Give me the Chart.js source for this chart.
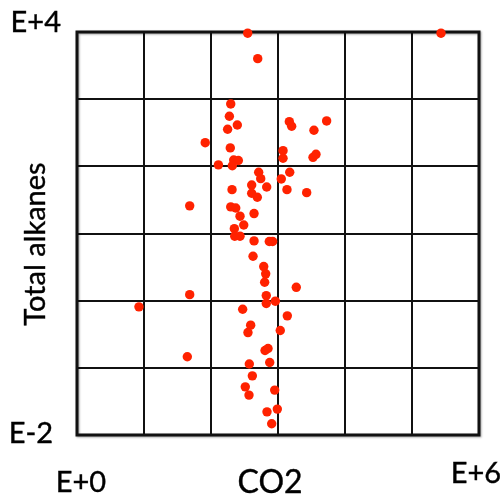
<!DOCTYPE html>
<html>
<head>
<meta charset="utf-8">
<script src="https://cdn.jsdelivr.net/npm/chart.js@4/dist/chart.umd.min.js"></script>
<style>
html,body{margin:0;padding:0;background:#fff;}
#wrap{width:504px;height:499px;position:relative;}
</style>
</head>
<body>
<div id="wrap"><canvas id="c" width="504" height="499"></canvas></div>
<script>
// Data (log-log scatter)
const co2 = [353,271000,498,197,188,247,177,1476,1600,3440,5320,82,194,1189,1189,3330,3690,218,256,129,208,
  515,552,1496,1119,405,678,206,1361,2679,405,491,48.1,197,234,439,271,308,223,226,271,439,741,832,
  424,612,655,632,1875,48.1,668,668,912,8.41,297,1377,391,356,1081,640,710,44.3,373,752,414,325,369,893,685,977,805];
const alkanes = [9600,9600,4010,849,556,413,356,462,395,344,474,225,188,171,132,136,151,124,122,105,102,
  81.7,65.6,81.7,64.9,52.8,49.3,45.0,45.0,40.6,39.8,34.7,25.8,24.9,24.0,19.8,18.1,13.4,11.8,9.12,9.12,7.76,7.59,7.59,
  4.59,3.22,2.51,1.88,1.58,1.23,1.19,0.906,0.982,0.809,0.746,0.594,0.432,0.335,0.359,0.181,0.194,0.146,0.114,0.120,0.076,0.0521,0.0393,0.0466,0.0221,0.0243,0.0147];
const xDecades = [1,10,100,1000,10000,100000,1000000];
const yDecades = [0.01,0.1,1,10,100,1000,10000];
const xTickLabels = ['E+0','E+6'];
const yTickLabels = ['E-2','E+4'];
const xTitle = 'CO2';
const yTitle = 'Total alkanes';

const points = co2.map((x,i)=>({x:x,y:alkanes[i]}));
const FONT = 'Lato, "Open Sans", sans-serif';

const framePlugin = {
  id:'frame',
  beforeDatasetsDraw(chart){
    const ctx = chart.ctx, a = chart.chartArea;
    ctx.save();
    ctx.shadowColor = 'rgba(0,0,0,0.35)';
    ctx.shadowBlur = 2;
    ctx.shadowOffsetX = 1;
    ctx.shadowOffsetY = 1;
    ctx.strokeStyle = '#111';
    ctx.lineWidth = 3;
    ctx.strokeRect(a.left, a.top, a.right-a.left, a.bottom-a.top);
    ctx.restore();
  }
};

const labelPlugin = {
  id:'labels',
  afterDraw(chart){
    const ctx = chart.ctx, xs = chart.scales.x, ys = chart.scales.y, a = chart.chartArea;
    ctx.save();
    ctx.fillStyle = '#000';
    ctx.strokeStyle = '#000';
    ctx.lineWidth = 0.4;
    ctx.font = '29px ' + FONT;
    ctx.textBaseline = 'alphabetic';
    const txt = (s,x,y) => { ctx.fillText(s,x,y); ctx.strokeText(s,x,y); };
    // y tick labels
    ctx.textAlign = 'right';
    txt(yTickLabels[1], a.left-16, ys.getPixelForValue(yDecades[yDecades.length-1]));
    txt(yTickLabels[0], a.left-24, ys.getPixelForValue(yDecades[0]) + 8);
    // x tick labels
    ctx.textAlign = 'center';
    txt(xTickLabels[0], xs.getPixelForValue(xDecades[0]) + 4, a.bottom + 57);
    txt(xTickLabels[1], xs.getPixelForValue(xDecades[xDecades.length-1]) - 3, a.bottom + 48);
    // x title
    ctx.font = '32px ' + FONT;
    txt(xTitle, (a.left+a.right)/2 - 8, a.bottom + 58);
    // y title
    ctx.font = '29px ' + FONT;
    ctx.translate(45, 244);
    ctx.rotate(-Math.PI/2);
    ctx.textAlign = 'center';
    txt(yTitle, 0, 0);
    ctx.restore();
  }
};

const gridW = (c) => (c.index===0 || c.index===c.scale.ticks.length-1) ? 0 : 2;

new Chart(document.getElementById('c'), {
  type:'scatter',
  data:{datasets:[{
    data: points,
    backgroundColor:'#ff2200',
    borderWidth:0,
    pointRadius:4.7,
    pointHoverRadius:4.7,
    clip:false
  }]},
  options:{
    responsive:false,
    animation:false,
    events:[],
    layout:{padding:{left:77,right:25,top:32,bottom:64}},
    plugins:{legend:{display:false},tooltip:{enabled:false}},
    scales:{
      x:{
        type:'logarithmic', min:1, max:1000000,
        afterBuildTicks: s => { s.ticks = xDecades.map(v=>({value:v})); },
        ticks:{display:false},
        grid:{color:'#111', lineWidth:gridW, drawTicks:false},
        border:{display:false}
      },
      y:{
        type:'logarithmic', min:0.01, max:10000,
        afterBuildTicks: s => { s.ticks = yDecades.map(v=>({value:v})); },
        ticks:{display:false},
        grid:{color:'#111', lineWidth:gridW, drawTicks:false},
        border:{display:false}
      }
    }
  },
  plugins:[framePlugin, labelPlugin]
});
</script>
</body>
</html>
